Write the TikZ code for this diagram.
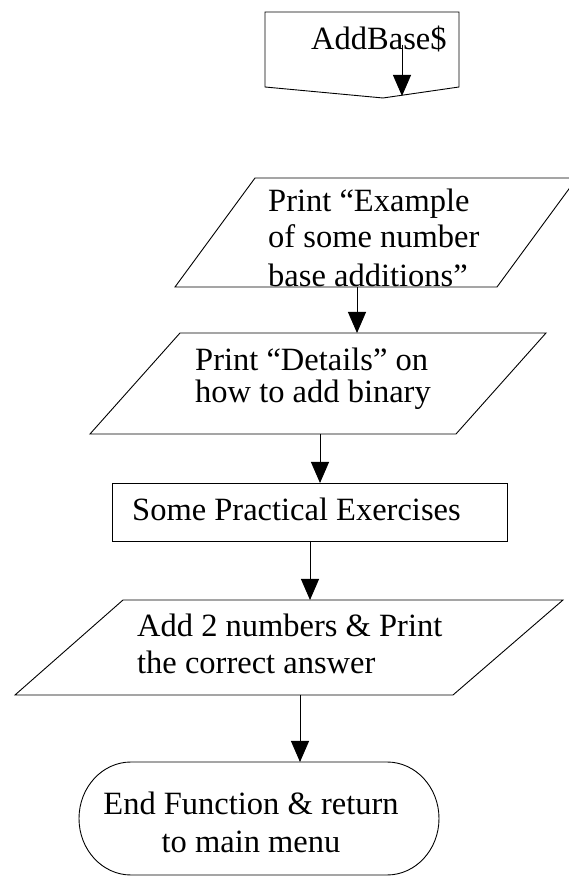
\documentclass[tikz,border=0pt]{standalone}
\usepackage{fontspec}
\setmainfont{Liberation Serif}
\usetikzlibrary{arrows.meta}

\tikzset{
  outline/.style={draw=black, line width=0.9pt, line join=miter},
  flow/.style={draw=black, line width=0.9pt, -{Triangle[width=18pt,length=21pt]}},
  label/.style={inner sep=0pt, anchor=base west, font=\fontsize{32.5}{36}\selectfont},
  clabel/.style={inner sep=0pt, anchor=base, font=\fontsize{32.5}{36}\selectfont},
}

\begin{document}
\begin{tikzpicture}[x=1pt, y=1pt]
  \clip (0,0) rectangle (569,881);
  \fill[white] (0,0) rectangle (569,881);

  % entry connector: AddBase$
  \draw[outline] (265,869) -- (459,869) -- (459,794) -- (383,783) -- (265,794) -- cycle;
  \node[label] (start) at (311,831) {AddBase\$};
  \coordinate (startA) at (402,836);
  \coordinate (startB) at (402,785);
  \draw[flow] (startA) -- (startB);

  % output: examples
  \draw[outline] (255,703) -- (577,703) -- (497,594) -- (175,594) -- cycle;
  \node[label] (ex1) at (268,669) {Print “Example};
  \node[label] (ex2) at (268,633) {of some number};
  \node[label] (ex3) at (268,594) {base additions”};
  \coordinate (exB) at (357,594);

  % output: details
  \draw[outline] (180,548) -- (546,548) -- (456,447) -- (90,447) -- cycle;
  \node[label] (de1) at (195,510) {Print “Details” on};
  \node[label] (de2) at (195,478) {how to add binary};
  \coordinate (deT) at (357,548);
  \coordinate (deB) at (320,447);

  % process: exercises
  \draw[outline] (112,340) rectangle (507,398);
  \node[label] (pr) at (132,360) {Some Practical Exercises};
  \coordinate (prT) at (320,398);
  \coordinate (prB) at (310,340);

  % input/output: addition
  \draw[outline] (123,281) -- (563,281) -- (453,186) -- (15,186) -- cycle;
  \node[label] (ad1) at (137,244) {Add 2 numbers \& Print};
  \node[label] (ad2) at (137,207) {the correct answer};
  \coordinate (adT) at (310,281);
  \coordinate (adB) at (300,186);

  % terminator
  \draw[outline] (131,119) -- (387,119)
    arc[start angle=90, end angle=-90, x radius=52, y radius=56.5]
    -- (131,6)
    arc[start angle=270, end angle=90, x radius=52, y radius=56.5] -- cycle;
  \node[clabel] (en1) at (251,66) {End Function \& return};
  \node[clabel] (en2) at (251,28) {to main menu};
  \coordinate (enT) at (300,119);

  % connectors
  \draw[flow] (exB) -- (deT);
  \draw[flow] (deB) -- (prT);
  \draw[flow] (prB) -- (adT);
  \draw[flow] (adB) -- (enT);
\end{tikzpicture}
\end{document}
